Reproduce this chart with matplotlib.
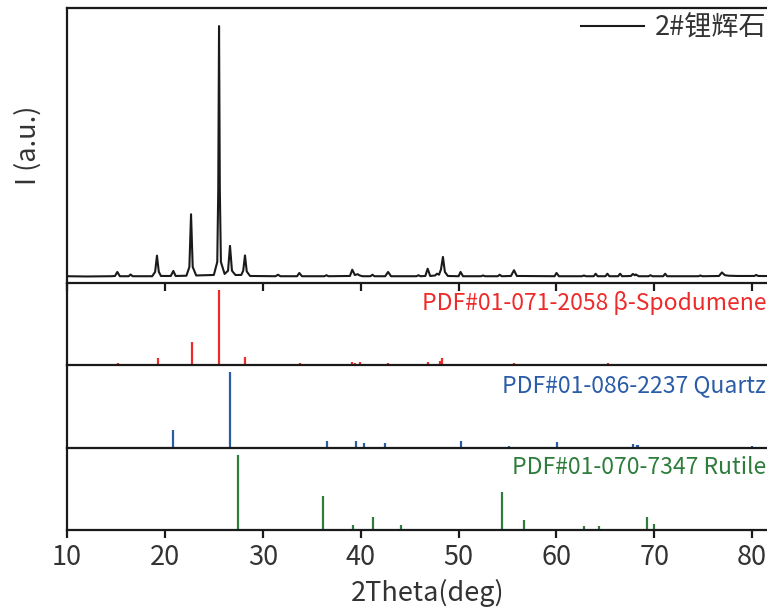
import matplotlib
matplotlib.use('Agg')
import matplotlib.pyplot as plt

plt.rcParams['font.family'] = ['Noto Sans CJK SC', 'DejaVu Sans']

xrd_2theta = [10.0, 12.0, 14.5, 14.9, 15.14, 15.4, 16.3, 16.5, 16.7, 18.7,
              19.0, 19.19, 19.38, 19.6, 20.6, 20.86, 21.1, 22.2, 22.5, 22.67,
              22.84, 23.2, 25.0, 25.35, 25.45, 25.53, 25.61, 25.72, 26.1, 26.45,
              26.65, 26.85, 27.2, 27.8, 28.0, 28.18, 28.36, 28.7, 31.3, 31.55,
              31.8, 33.5, 33.73, 34.0, 36.3, 36.5, 36.7, 38.9, 39.14, 39.4,
              39.7, 39.9, 40.2, 41.0, 41.2, 41.4, 42.5, 42.8, 43.1, 45.7,
              45.9, 46.1, 46.6, 46.84, 47.1, 47.6, 47.8, 48.0, 48.2, 48.4,
              48.6, 48.9, 50.0, 50.2, 50.45, 52.3, 52.5, 52.7, 54.0, 54.2,
              54.4, 55.35, 55.66, 55.95, 59.8, 60.0, 60.25, 62.6, 62.8, 63.0,
              63.8, 64.0, 64.2, 65.0, 65.2, 65.4, 66.3, 66.5, 66.7, 67.6,
              67.8, 68.0, 68.1, 68.4, 69.4, 69.6, 69.8, 70.9, 71.1, 71.3,
              74.5, 74.7, 74.9, 76.6, 76.9, 77.2, 77.6, 78.5, 80.2, 80.4,
              80.6, 84.0]
xrd_int = [0.3, 0.2, 0.3, 0.4, 2.0, 0.3, 0.3, 1.0, 0.3, 0.3,
           2.0, 8.5, 2.0, 0.4, 0.4, 2.4, 0.4, 0.5, 4.0, 25.0,
           4.0, 0.6, 0.8, 6.0, 35.0, 100.0, 35.0, 6.0, 1.2, 2.5,
           12.4, 2.5, 0.8, 0.8, 2.5, 8.6, 2.2, 0.4, 0.3, 0.9,
           0.3, 0.3, 1.6, 0.3, 0.3, 0.7, 0.3, 0.4, 2.9, 0.8,
           1.1, 0.6, 0.3, 0.3, 0.9, 0.3, 0.3, 2.0, 0.3, 0.3,
           0.7, 0.3, 0.4, 3.3, 0.4, 0.6, 1.3, 0.9, 3.0, 8.0,
           2.0, 0.4, 0.3, 2.0, 0.3, 0.3, 0.6, 0.3, 0.3, 0.9,
           0.3, 0.4, 2.7, 0.4, 0.3, 1.6, 0.3, 0.3, 0.6, 0.3,
           0.3, 1.3, 0.3, 0.3, 1.3, 0.3, 0.3, 1.3, 0.3, 0.4,
           1.2, 0.7, 1.0, 0.3, 0.3, 0.7, 0.3, 0.3, 1.3, 0.3,
           0.3, 0.6, 0.3, 0.4, 1.8, 0.7, 0.5, 0.4, 0.4, 0.8,
           0.4, 0.3]

# reference cards (stick patterns)
spod_x = [15.2, 16.6, 19.3, 22.77, 25.53, 26.4, 28.2, 31.6, 33.0, 33.8,
          37.1, 37.75, 39.1, 39.4, 39.9, 41.1, 42.8, 43.3, 44.5, 46.85,
          48.1, 48.3, 49.9, 51.1, 53.0, 55.7, 58.3, 60.4, 62.4, 63.4,
          64.4, 65.3, 66.8, 67.5, 68.2, 69.5, 71.3, 73.6, 75.0, 76.7,
          77.7, 80.8]
spod_h = [3, 1, 9, 31, 100, 1, 11, 1, 1, 2.5,
          1, 1, 4, 3, 4, 2, 3, 2, 1, 4,
          5, 9, 1.5, 1.5, 1, 3, 1, 1.5, 1.5, 1,
          1.5, 3, 1.5, 1, 1.5, 1, 1, 1, 1, 1.5,
          1, 1]

quartz_x = [20.8, 26.65, 36.6, 39.5, 40.3, 42.5, 45.9, 50.2, 55.1, 55.4,
            57.5, 60.1, 64.2, 65.8, 67.8, 68.2, 68.3, 73.6, 75.8, 80.0]
quartz_h = [24, 100, 9, 9, 6, 6.5, 1.5, 9, 2, 1,
            1, 8, 1, 1, 5, 4, 4, 1.5, 1, 2]

rutile_x = [27.44, 36.1, 39.2, 41.25, 44.1, 54.4, 56.7, 62.8, 64.3, 65.7,
            69.2, 69.96, 72.6, 74.6, 76.7, 80.0]
rutile_h = [100, 45, 7, 17, 7, 51, 14, 6, 6, 1,
            17, 8, 1, 1, 2, 1]

xticks = [10, 20, 30, 40, 50, 60, 70, 80]

W, H = 767, 615
fig = plt.figure(figsize=(W / 100, H / 100), dpi=100)


def box(top, bottom, left=67, right=789):
    return [left / W, 1 - bottom / H, (right - left) / W, (bottom - top) / H]


ax0 = fig.add_axes(box(8, 283))
ax1 = fig.add_axes(box(283, 365))
ax2 = fig.add_axes(box(365, 448))
ax3 = fig.add_axes(box(448, 530))

ax0.plot(xrd_2theta, xrd_int, color='#1a1a1a', lw=1.5, label='2#锂辉石')
ax1.vlines(spod_x, 0, spod_h, color='#ee2b2b', lw=1.6)
ax2.vlines(quartz_x, 0, quartz_h, color='#2a5ca8', lw=1.6)
ax3.vlines(rutile_x, 0, rutile_h, color='#2e7d3c', lw=1.6)

ax0.set_ylim(-2.4, 107.2)
for ax in (ax1, ax2, ax3):
    ax.set_ylim(0, 109.5)

for ax in (ax0, ax1, ax2, ax3):
    ax.set_xlim(10, 83.75)
    ax.set_yticks([])
    ax.spines['right'].set_visible(False)
    for s in ax.spines.values():
        s.set_linewidth(1.6)
        s.set_color('#1a1a1a')
    ax.patch.set_alpha(0)

for ax in (ax1, ax2, ax3):
    ax.spines['top'].set_visible(False)

ax0.set_xticks(xticks)
ax0.tick_params(axis='x', direction='out', length=6, width=1.6,
                color='#1a1a1a', labelbottom=False)
for ax in (ax1, ax2):
    ax.set_xticks([])
ax3.set_xticks(xticks)
ax3.tick_params(axis='x', direction='out', length=6, width=1.6,
                color='#1a1a1a', labelsize=19.5, labelcolor='#333333', pad=4)
ax3.set_xlabel('2Theta(deg)', fontsize=19.5, color='#333333', labelpad=6)
ax0.set_ylabel('I (a.u.)', fontsize=19.5, color='#333333', labelpad=18)

ax0.legend(loc='upper right', bbox_to_anchor=(766 / W, 1 - 14 / H),
           bbox_transform=fig.transFigure, frameon=False, fontsize=19.5,
           handlelength=2.3, handletextpad=0.4, borderaxespad=0,
           borderpad=0, labelcolor='#333333')

fig.text(766 / W, 1 - 303 / H, 'PDF#01-071-2058 β-Spodumene', ha='right',
         va='center', fontsize=16.5, color='#ee2b2b')
fig.text(766 / W, 1 - 386 / H, 'PDF#01-086-2237 Quartz', ha='right',
         va='center', fontsize=16.5, color='#2a5ca8')
fig.text(766 / W, 1 - 468 / H, 'PDF#01-070-7347 Rutile', ha='right',
         va='center', fontsize=16.5, color='#2e7d3c')

fig.savefig('out.png', dpi=100)
